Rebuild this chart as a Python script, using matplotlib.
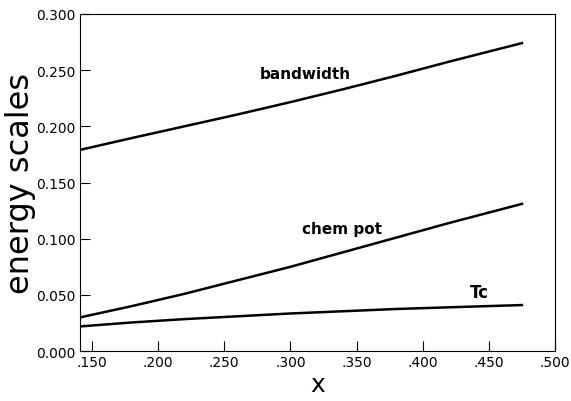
import matplotlib
matplotlib.use("Agg")
import matplotlib.pyplot as plt

# values
x = [0.141, 0.18, 0.22, 0.26, 0.30, 0.34, 0.38, 0.42, 0.475]
bandwidth = [0.179, 0.1895, 0.200, 0.2105, 0.2215, 0.233, 0.245, 0.2575, 0.274]
chem_pot = [0.030, 0.040, 0.051, 0.063, 0.075, 0.088, 0.101, 0.114, 0.131]
tc = [0.022, 0.0255, 0.0285, 0.031, 0.0335, 0.0355, 0.0375, 0.039, 0.041]

xticks = [0.15, 0.20, 0.25, 0.30, 0.35, 0.40, 0.45, 0.50]
xticklabels = ['.150', '.200', '.250', '.300', '.350', '.400', '.450', '.500']
yticks = [0.0, 0.05, 0.10, 0.15, 0.20, 0.25, 0.30]
yticklabels = ['0.000', '0.050', '0.100', '0.150', '0.200', '0.250', '0.300']

plt.rcParams['font.family'] = 'DejaVu Sans'

fig = plt.figure(figsize=(5.71, 4.02), dpi=100)
ax = fig.add_axes([0.140, 0.124, 0.832, 0.839])

ax.plot(x, bandwidth, color='black', lw=1.8)
ax.plot(x, chem_pot, color='black', lw=1.8)
ax.plot(x, tc, color='black', lw=1.8)

ax.text(0.311, 0.2467, 'bandwidth', ha='center', va='center', fontsize=11, fontweight='bold')
ax.text(0.339, 0.1095, 'chem pot', ha='center', va='center', fontsize=11, fontweight='bold')
ax.text(0.443, 0.053, 'Tc', ha='center', va='center', fontsize=12, fontweight='bold')

ax.set_xlim(0.141, 0.5)
ax.set_ylim(0.0, 0.3)
ax.set_xticks(xticks)
ax.set_xticklabels(xticklabels)
ax.set_yticks(yticks)
ax.set_yticklabels(yticklabels)
ax.tick_params(direction='in', length=7, width=0.8, labelsize=10, pad=3)

for s in ax.spines.values():
    s.set_linewidth(0.8)

ax.set_xlabel('x', fontsize=18, labelpad=2)
ax.set_ylabel('energy scales', fontsize=23, labelpad=0)

fig.savefig('out.png', dpi=100)
